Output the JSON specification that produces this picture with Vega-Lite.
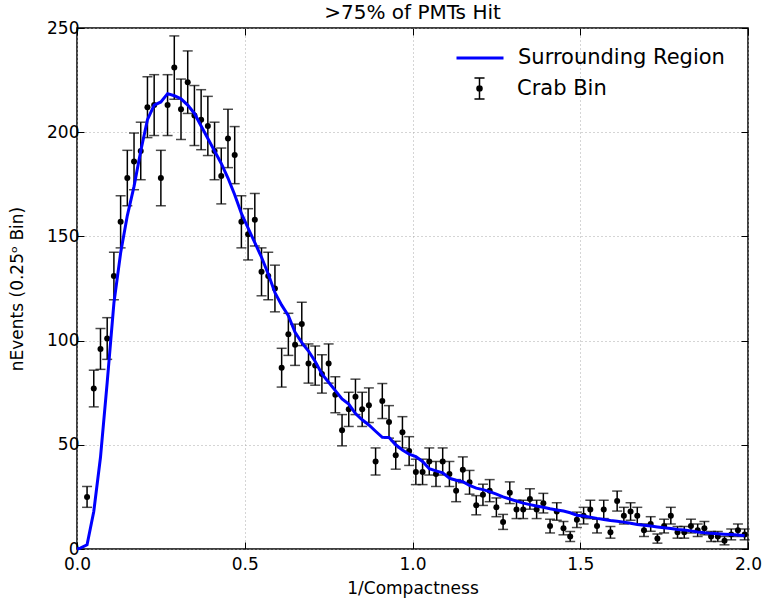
{
  "$schema": "https://vega.github.io/schema/vega-lite/v6.json",
  "autosize": "none",
  "width": 671,
  "height": 521,
  "padding": {"left": 77, "top": 28, "right": 17, "bottom": 53},
  "background": "white",
  "config": {
    "font": "DejaVu Sans",
    "view": {"stroke": "black", "strokeWidth": 1.5},
    "axis": {
      "labelFont": "DejaVu Sans",
      "labelFontSize": 17,
      "labelColor": "black",
      "labelFlush": false,
      "titleFont": "DejaVu Sans",
      "titleFontSize": 17,
      "titleFontWeight": "normal",
      "titleColor": "black",
      "domain": false,
      "tickColor": "black",
      "tickSize": -7,
      "tickWidth": 1,
      "grid": true,
      "gridColor": "#aaaaaa",
      "gridDash": [1, 3],
      "gridWidth": 1
    },
    "legend": {
      "labelFont": "DejaVu Sans",
      "labelFontSize": 21,
      "labelColor": "black",
      "labelLimit": 400,
      "title": null
    }
  },
  "title": {"text": ">75% of PMTs Hit", "fontSize": 20, "fontWeight": "normal", "font": "DejaVu Sans", "color": "black", "frame": "group", "offset": -4},
  "resolve": {"axis": {"x": "independent", "y": "independent"}},
  "datasets": {
    "crab": [
      {"x":0.03,"n":25,"err":5.0},{"x":0.05,"n":77,"err":8.8},{"x":0.07,"n":96,"err":9.8},{"x":0.09,"n":101,"err":10.0},
      {"x":0.11,"n":131,"err":11.4},{"x":0.13,"n":157,"err":12.5},{"x":0.15,"n":178,"err":13.3},{"x":0.17,"n":186,"err":13.6},
      {"x":0.19,"n":191,"err":13.8},{"x":0.21,"n":212,"err":14.6},{"x":0.23,"n":213,"err":14.6},{"x":0.25,"n":178,"err":13.3},
      {"x":0.27,"n":213,"err":14.6},{"x":0.29,"n":231,"err":15.2},{"x":0.31,"n":211,"err":14.5},{"x":0.33,"n":224,"err":15.0},
      {"x":0.35,"n":208,"err":14.4},{"x":0.37,"n":206,"err":14.4},{"x":0.39,"n":203,"err":14.2},{"x":0.41,"n":191,"err":13.8},
      {"x":0.43,"n":179,"err":13.4},{"x":0.45,"n":197,"err":14.0},{"x":0.47,"n":189,"err":13.7},{"x":0.49,"n":157,"err":12.5},
      {"x":0.51,"n":151,"err":12.3},{"x":0.53,"n":158,"err":12.6},{"x":0.55,"n":133,"err":11.5},{"x":0.57,"n":131,"err":11.4},
      {"x":0.59,"n":125,"err":11.2},{"x":0.61,"n":87,"err":9.3},{"x":0.63,"n":103,"err":10.1},{"x":0.65,"n":98,"err":9.9},
      {"x":0.67,"n":108,"err":10.4},{"x":0.69,"n":89,"err":9.4},{"x":0.71,"n":88,"err":9.4},{"x":0.73,"n":84,"err":9.2},
      {"x":0.75,"n":89,"err":9.4},{"x":0.77,"n":74,"err":8.6},{"x":0.79,"n":57,"err":7.5},{"x":0.81,"n":67,"err":8.2},
      {"x":0.83,"n":73,"err":8.5},{"x":0.85,"n":67,"err":8.2},{"x":0.87,"n":69,"err":8.3},{"x":0.89,"n":42,"err":6.5},
      {"x":0.91,"n":71,"err":8.4},{"x":0.93,"n":61,"err":7.8},{"x":0.95,"n":45,"err":6.7},{"x":0.97,"n":56,"err":7.5},
      {"x":0.99,"n":47,"err":6.9},{"x":1.01,"n":37,"err":6.1},{"x":1.03,"n":37,"err":6.1},{"x":1.05,"n":42,"err":6.5},
      {"x":1.07,"n":36,"err":6.0},{"x":1.09,"n":42,"err":6.5},{"x":1.11,"n":36,"err":6.0},{"x":1.13,"n":28,"err":5.3},
      {"x":1.15,"n":38,"err":6.2},{"x":1.17,"n":32,"err":5.7},{"x":1.19,"n":21,"err":4.6},{"x":1.21,"n":26,"err":5.1},
      {"x":1.23,"n":28,"err":5.3},{"x":1.25,"n":20,"err":4.5},{"x":1.27,"n":13,"err":3.6},{"x":1.29,"n":27,"err":5.2},
      {"x":1.31,"n":19,"err":4.4},{"x":1.33,"n":19,"err":4.4},{"x":1.35,"n":24,"err":4.9},{"x":1.37,"n":19,"err":4.4},
      {"x":1.39,"n":22,"err":4.7},{"x":1.41,"n":11,"err":3.3},{"x":1.43,"n":18,"err":4.2},{"x":1.45,"n":10,"err":3.2},
      {"x":1.47,"n":6,"err":2.4},{"x":1.49,"n":14,"err":3.7},{"x":1.51,"n":16,"err":4.0},{"x":1.53,"n":19,"err":4.4},
      {"x":1.55,"n":11,"err":3.3},{"x":1.57,"n":19,"err":4.4},{"x":1.59,"n":8,"err":2.8},{"x":1.61,"n":23,"err":4.8},
      {"x":1.63,"n":16,"err":4.0},{"x":1.65,"n":18,"err":4.2},{"x":1.67,"n":16,"err":4.0},{"x":1.69,"n":9,"err":3.0},
      {"x":1.71,"n":12,"err":3.5},{"x":1.73,"n":5,"err":2.2},{"x":1.75,"n":11,"err":3.3},{"x":1.77,"n":16,"err":4.0},
      {"x":1.79,"n":8,"err":2.8},{"x":1.81,"n":8,"err":2.8},{"x":1.83,"n":11,"err":3.3},{"x":1.85,"n":9,"err":3.0},
      {"x":1.87,"n":10,"err":3.2},{"x":1.89,"n":6,"err":2.4},{"x":1.91,"n":6,"err":2.4},{"x":1.93,"n":4,"err":2.0},
      {"x":1.95,"n":7,"err":2.6},{"x":1.97,"n":9,"err":3.0},{"x":1.99,"n":7,"err":2.6}
    ],
    "sur": [
      {"x":0.0,"y":0},{"x":0.01,"y":0.4},{"x":0.03,"y":2},{"x":0.05,"y":18},{"x":0.07,"y":44},{"x":0.09,"y":80},
      {"x":0.11,"y":118},{"x":0.13,"y":142},{"x":0.15,"y":160},{"x":0.17,"y":174},{"x":0.19,"y":191},
      {"x":0.21,"y":206},{"x":0.23,"y":213},{"x":0.25,"y":214.5},{"x":0.27,"y":218.5},{"x":0.29,"y":217.5},
      {"x":0.31,"y":216},{"x":0.33,"y":213},{"x":0.35,"y":209},{"x":0.37,"y":203},{"x":0.39,"y":197},
      {"x":0.41,"y":191},{"x":0.43,"y":185},{"x":0.45,"y":178},{"x":0.47,"y":170},{"x":0.49,"y":161},
      {"x":0.51,"y":154},{"x":0.53,"y":147},{"x":0.55,"y":140},{"x":0.57,"y":132},{"x":0.59,"y":123},
      {"x":0.61,"y":117},{"x":0.63,"y":112},{"x":0.65,"y":104},{"x":0.67,"y":99},{"x":0.69,"y":95},
      {"x":0.71,"y":90},{"x":0.73,"y":84},{"x":0.75,"y":80},{"x":0.77,"y":76},{"x":0.79,"y":72},
      {"x":0.81,"y":69.5},{"x":0.83,"y":65},{"x":0.85,"y":62},{"x":0.87,"y":59.5},{"x":0.89,"y":56.5},
      {"x":0.91,"y":53.6},{"x":0.93,"y":53.5},{"x":0.95,"y":50},{"x":0.97,"y":47.5},{"x":0.99,"y":45.5},
      {"x":1.01,"y":44.3},{"x":1.03,"y":42},{"x":1.05,"y":38.5},{"x":1.07,"y":37.5},{"x":1.09,"y":36.5},
      {"x":1.11,"y":34},{"x":1.13,"y":33},{"x":1.15,"y":32.3},{"x":1.17,"y":30.5},{"x":1.19,"y":29.2},
      {"x":1.21,"y":28.5},{"x":1.23,"y":27.5},{"x":1.25,"y":26.3},{"x":1.27,"y":25},{"x":1.29,"y":24},
      {"x":1.31,"y":23},{"x":1.33,"y":22},{"x":1.35,"y":21.3},{"x":1.37,"y":20.6},{"x":1.39,"y":20},
      {"x":1.41,"y":19.3},{"x":1.43,"y":18.7},{"x":1.45,"y":18.2},{"x":1.47,"y":17.4},{"x":1.49,"y":16.2},
      {"x":1.51,"y":15.8},{"x":1.53,"y":15.3},{"x":1.55,"y":14.7},{"x":1.57,"y":14.2},{"x":1.59,"y":13.7},
      {"x":1.61,"y":13.3},{"x":1.63,"y":12.9},{"x":1.65,"y":12.4},{"x":1.67,"y":11.8},{"x":1.69,"y":11.4},
      {"x":1.71,"y":11},{"x":1.73,"y":10.6},{"x":1.75,"y":10.2},{"x":1.77,"y":9.8},{"x":1.79,"y":9.4},
      {"x":1.81,"y":9.1},{"x":1.83,"y":8.7},{"x":1.85,"y":8.2},{"x":1.87,"y":7.8},{"x":1.89,"y":7.5},
      {"x":1.91,"y":7.3},{"x":1.93,"y":7.1},{"x":1.95,"y":6.9},{"x":1.97,"y":6.7},{"x":1.99,"y":6.4}
    ]
  },
  "layer": [
    {
      "data": {"name": "crab"},
      "mark": {"type": "errorbar", "ticks": {"size": 10, "color": "black", "strokeWidth": 1.5}, "color": "black", "thickness": 1.5},
      "encoding": {
        "x": {"field": "x", "type": "quantitative", "scale": {"domain": [0, 2], "nice": false, "zero": false},
              "axis": {"values": [0, 0.5, 1, 1.5, 2], "format": ".1f", "title": "1/Compactness", "labelPadding": 14, "titlePadding": 8}},
        "y": {"field": "n", "type": "quantitative", "scale": {"domain": [0, 250], "nice": false},
              "axis": {"values": [0, 50, 100, 150, 200, 250], "format": "d", "title": "nEvents (0.25ᵒ  Bin)", "labelPadding": 5, "titlePadding": 20}},
        "yError": {"field": "err"}
      }
    },
    {
      "data": {"name": "crab"},
      "mark": {"type": "point", "filled": true, "size": 36, "opacity": 1},
      "encoding": {
        "x": {"field": "x", "type": "quantitative", "axis": null},
        "y": {"field": "n", "type": "quantitative", "axis": null},
        "fill": {"datum": "Crab Bin", "type": "nominal",
          "scale": {"domain": ["Crab Bin"], "range": ["#000000"]},
          "legend": {
            "orient": "none", "legendX": 378, "legendY": 49, "padding": 0,
            "symbolType": "M0,-1V1M-0.48,-1H0.48M-0.48,1H0.48M0.24,0A0.24,0.24,0,1,1,-0.24,0A0.24,0.24,0,1,1,0.24,0Z",
            "symbolSize": 441, "symbolStrokeColor": "black", "symbolStrokeWidth": 1.5, "symbolFillColor": "black",
            "symbolOffset": 13, "labelOffset": 26
          }}
      }
    },
    {
      "data": {"name": "sur"},
      "mark": {"type": "line", "strokeWidth": 3},
      "encoding": {
        "x": {"field": "x", "type": "quantitative",
              "axis": {"orient": "top", "values": [0, 0.5, 1, 1.5, 2], "labels": false, "title": null, "grid": false}},
        "y": {"field": "y", "type": "quantitative",
              "axis": {"orient": "right", "values": [0, 50, 100, 150, 200, 250], "labels": false, "title": null, "grid": false}},
        "stroke": {"datum": "Surrounding Region", "type": "nominal",
          "scale": {"domain": ["Surrounding Region"], "range": ["#0000ff"]},
          "legend": {
            "orient": "none", "legendX": 378, "legendY": 5, "padding": 0,
            "symbolType": "stroke", "symbolSize": 2209, "symbolStrokeWidth": 3, "labelOffset": 13
          }}
      }
    }
  ]
}
